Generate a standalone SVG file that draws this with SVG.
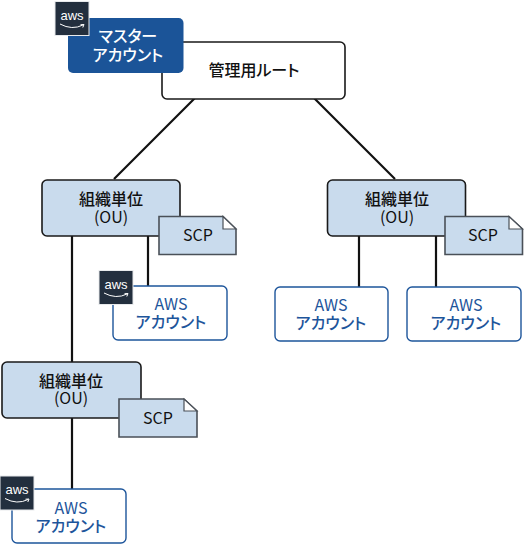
<svg xmlns="http://www.w3.org/2000/svg" width="524" height="547" viewBox="0 0 524 547">
<defs>
<style>
text{font-family:"Noto Sans CJK JP","Noto Sans",sans-serif;font-size:16px;font-weight:500;text-anchor:middle;fill:#111;font-feature-settings:"palt"}
.lat{font-weight:400}
.ou{fill:#c9dbed;stroke:#1a1a1a;stroke-width:1.6}
.acct{fill:#fff;stroke:#1d559b;stroke-width:1.4}
.blue{fill:#1d559b}
.white{fill:#fff}
.scp{fill:#c9dbed;stroke:#4a5058;stroke-width:1.6}
.fold{fill:#fff;stroke:#4a5058;stroke-width:1.2}
.line{stroke:#111;stroke-width:2.200;fill:none}
.badge{fill:#232f3e;stroke:#e8eaec;stroke-width:1}
.logo{fill:#fff;font-family:"Liberation Sans",sans-serif;font-size:13px;font-weight:400}
.smile{fill:none;stroke:#fff;stroke-width:1}
</style>
<g id="aws-badge">
<rect class="badge" x="0" y="0" width="34" height="34"/>
<text class="logo" x="17" y="18">aws</text>
<path class="smile" d="M5 22.500Q17 29 28 23.500M25.500 23.200L29 23L27.800 26"/>
</g>
</defs>
<g id="connectors">
<path class="line" d="M195 98L114 179M314 98L395 179M72 236V363M148 236V287M359 236V287M436 236V287M72 418V490"/>
</g>
<g id="root"><rect x="162" y="42" width="183" height="57" rx="5" fill="#fff" stroke="#1a1a1a" stroke-width="1.6"/><text x="254" y="76">管理用ルート</text></g>
<g id="master"><rect x="68" y="18" width="115.500" height="55" rx="5" fill="#1b5498"/><text class="white" x="128" y="42">マスター<tspan x="128" dy="19">アカウント</tspan></text></g>
<use id="badge-master" href="#aws-badge" x="55" y="1.500"/>
<g id="ou1"><rect class="ou" x="42" y="180" width="138" height="56" rx="5"/><text x="111" y="205">組織単位<tspan class="lat" x="111" dy="18">(OU)</tspan></text></g>
<g id="scp1"><path class="scp" d="M159 216.500H223L236 229V254.500H159Z"/><path class="fold" d="M223 216.500V229H236Z"/><text class="lat" x="198" y="241">SCP</text></g>
<g id="acct1"><rect class="acct" x="113" y="286" width="114" height="54" rx="5"/><text class="blue" x="171" y="328">アカウント<tspan class="lat" x="171" dy="-18">AWS</tspan></text></g>
<use id="badge1" href="#aws-badge" x="99" y="270.500"/>
<g id="ou2"><rect class="ou" x="2" y="362" width="139" height="56" rx="5"/><text x="71" y="387">組織単位<tspan class="lat" x="71" dy="17">(OU)</tspan></text></g>
<g id="scp2"><path class="scp" d="M119 399H184L197 411V437H119Z"/><path class="fold" d="M184 399V411H197Z"/><text class="lat" x="158" y="424">SCP</text></g>
<g id="acct2"><rect class="acct" x="12" y="489" width="114" height="54" rx="5"/><text class="blue" x="71" y="532">アカウント<tspan class="lat" x="71" dy="-18">AWS</tspan></text></g>
<use id="badge2" href="#aws-badge" x="0" y="476"/>
<g id="ou3"><rect class="ou" x="327.500" y="180" width="138" height="56" rx="5"/><text x="397" y="205">組織単位<tspan class="lat" x="397" dy="18">(OU)</tspan></text></g>
<g id="scp3"><path class="scp" d="M445 216.500H509L522.500 229V254.500H445Z"/><path class="fold" d="M509 216.500V229H522.500Z"/><text class="lat" x="483" y="241">SCP</text></g>
<g id="acct3"><rect class="acct" x="275" y="287" width="113" height="54" rx="5"/><text class="blue" x="331" y="329">アカウント<tspan class="lat" x="331" dy="-18">AWS</tspan></text></g>
<g id="acct4"><rect class="acct" x="407" y="287" width="114" height="54" rx="5"/><text class="blue" x="466" y="329">アカウント<tspan class="lat" x="466" dy="-18">AWS</tspan></text></g>
</svg>
